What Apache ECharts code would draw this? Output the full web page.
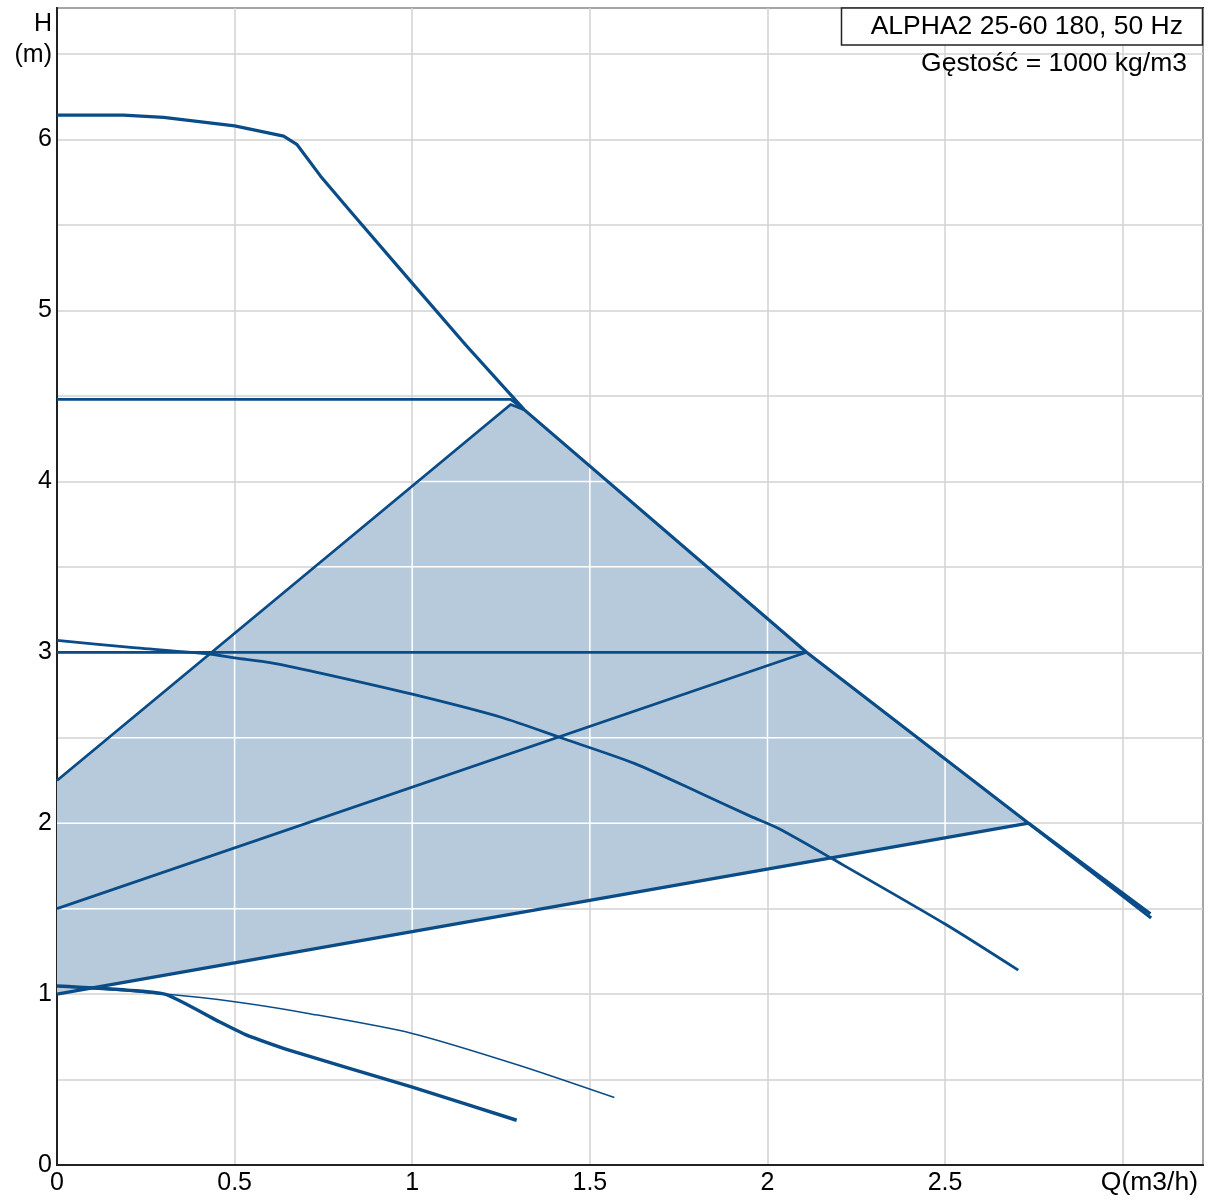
<!DOCTYPE html>
<html>
<head>
<meta charset="utf-8">
<script src="https://cdn.jsdelivr.net/npm/echarts@6/dist/echarts.min.js"></script>
<style>html,body{margin:0;padding:0;background:#fff}#c{width:1210px;height:1200px}</style>
</head>
<body>
<div id="c"></div>
<script>
// ---- data (Q in m3/h, H in m) ----
const maxCurve = [[0,6.143],[0.187,6.143],[0.3,6.13],[0.5,6.08],[0.638,6.02],[0.676,5.97],[0.742,5.786],[0.83,5.57],[1.0,5.16],[1.15,4.8],[1.315,4.42],[2.11,3.0],[2.735,2.0],[3.078,1.47]];
const constHigh = [[0,4.48],[1.277,4.48],[1.315,4.42]];
const propHigh = [[0,2.25],[1.277,4.45],[1.315,4.42]];
const constMid = [[0,3.0],[2.11,3.0]];
const propMid = [[0,1.5],[2.11,3.0]];
const propLow = [[0,1.0],[2.735,2.0]];
const propLowTail = [[2.735,2.0],[3.08,1.445]];
const speedIII = [[0,3.07],[0.2,3.03],[0.43,2.99],[0.5,2.967],[0.6,2.94],[0.732,2.883],[1.0,2.755],[1.25,2.62],[1.418,2.5],[1.625,2.35],[1.813,2.174],[1.953,2.04],[2.03,1.97],[2.184,1.79],[2.5,1.41],[2.706,1.14]];
const speedI = [[0,1.047],[0.303,1.0],[0.448,0.848],[0.534,0.76],[0.653,0.672],[0.998,0.457],[1.294,0.262]];
const speedIThin = [[0,1.047],[0.303,1.0],[0.5,0.955],[0.707,0.887],[1.0,0.77],[1.3,0.584],[1.569,0.395]];
const xTicks = [0, 0.5, 1, 1.5, 2, 2.5];
const yTicks = [0, 1, 2, 3, 4, 5, 6];
const xMax = 3.226, yMax = 6.77, gridStep = 0.5;
const titleText = 'ALPHA2 25-60 180, 50 Hz';
const densityText = 'Gęstość = 1000 kg/m3';
const xName = 'Q(m3/h)';
const yName1 = 'H', yName2 = '(m)';

// ---- fill region built from curves ----
const endLow = propLow[propLow.length - 1];
const peak = propHigh[propHigh.length - 1];
const fillPoly = [propLow[0]].concat(propHigh,
  maxCurve.filter(p => p[0] > peak[0] && p[0] < endLow[0]), [endLow]);

// white grid lines inside the filled region
function crossings(poly, axis, v) {
  const out = [];
  for (let i = 0; i < poly.length; i++) {
    const a = poly[i], b = poly[(i + 1) % poly.length];
    if ((a[axis] <= v) !== (b[axis] <= v)) {
      const t = (v - a[axis]) / (b[axis] - a[axis]);
      out.push(a[1 - axis] + t * (b[1 - axis] - a[1 - axis]));
    }
  }
  return out.sort((m, n) => m - n);
}
const innerGrid = [];
for (let v = gridStep; v < xMax; v += gridStep) {
  const c = crossings(fillPoly, 0, v);
  for (let i = 0; i + 1 < c.length; i += 2) innerGrid.push([v, c[i], v, c[i + 1]]);
}
for (let v = gridStep; v < yMax; v += gridStep) {
  const c = crossings(fillPoly, 1, v);
  for (let i = 0; i + 1 < c.length; i += 2) innerGrid.push([c[i], v, c[i + 1], v]);
}

const BLUE = '#0a4c87';
const FONT = 'Liberation Sans, Arial, sans-serif';
function curve(name, data, width, smooth) {
  return { name, type: 'line', data, symbol: 'none', smooth: smooth || false, z: 5,
    lineStyle: { color: BLUE, width, join: 'round' }, silent: true, animation: false };
}
const near = (v, arr) => arr.some(t => Math.abs(t - v) < 1e-6);

const chart = echarts.init(document.getElementById('c'), null, { renderer: 'canvas' });
chart.setOption({
  animation: false,
  backgroundColor: '#fff',
  grid: { left: 57, top: 8, right: 7, bottom: 35, show: true, borderColor: '#222', borderWidth: 2, backgroundColor: 'transparent' },
  xAxis: {
    type: 'value', min: 0, max: xMax, interval: gridStep,
    axisLine: { show: true, lineStyle: { color: '#222', width: 2 } },
    axisTick: { show: false },
    splitLine: { show: true, lineStyle: { color: '#d2d2d2', width: 1.5 } },
    axisLabel: { fontSize: 25, color: '#000', fontFamily: FONT, margin: 6,
      showMaxLabel: false,
      formatter: v => near(v, xTicks) ? String(v) : '' }
  },
  yAxis: {
    type: 'value', min: 0, max: yMax, interval: gridStep,
    axisLine: { show: true, lineStyle: { color: '#222', width: 2 } },
    axisTick: { show: false },
    splitLine: { show: true, lineStyle: { color: '#d2d2d2', width: 1.5 } },
    axisLabel: { fontSize: 25, color: '#000', fontFamily: FONT, margin: 5,
      showMaxLabel: false,
      formatter: v => near(v, yTicks) ? String(v) : '' }
  },
  series: [
    { type: 'custom', z: 1, silent: true, data: [[0, 0]],
      renderItem: (params, api) => ({ type: 'polygon',
        shape: { points: fillPoly.map(p => api.coord(p)) },
        style: { fill: '#b7cadb', stroke: null } }) },
    { type: 'custom', z: 2, silent: true, data: innerGrid,
      encode: { x: [0, 2], y: [1, 3] },
      renderItem: (params, api) => {
        const a = api.coord([api.value(0), api.value(1)]);
        const b = api.coord([api.value(2), api.value(3)]);
        return { type: 'line', shape: { x1: a[0], y1: a[1], x2: b[0], y2: b[1] },
          style: { stroke: '#ffffff', lineWidth: 1.5 } };
      } },
    curve('speedIThin', speedIThin, 1.5, 0.25),
    curve('speedI', speedI, 3.5, 0.15),
    curve('speedIII', speedIII, 2.8, 0.25),
    curve('propLow', propLow, 3.2),
    curve('propLowTail', propLowTail, 3.2),
    curve('propMid', propMid, 2.8),
    curve('constMid', constMid, 2.8),
    curve('propHigh', propHigh, 2.8),
    curve('constHigh', constHigh, 2.8),
    curve('maxCurve', maxCurve, 3.2)
  ],
  graphic: [
    { type: 'rect', z: 10, shape: { x: 841.5, y: 8, width: 361, height: 37 },
      style: { fill: '#fff', stroke: '#222', lineWidth: 1.5 } },
    { type: 'text', z: 11, x: 1183, y: 27, style: { text: titleText, font: '26.5px ' + FONT, fill: '#000', textAlign: 'right', textVerticalAlign: 'middle' } },
    { type: 'text', z: 11, x: 1187, y: 64, style: { text: densityText, font: '26.5px ' + FONT, fill: '#000', textAlign: 'right', textVerticalAlign: 'middle' } },
    { type: 'text', z: 11, x: 1198, y: 1183, style: { text: xName, font: '26.5px ' + FONT, fill: '#000', textAlign: 'right', textVerticalAlign: 'middle' } },
    { type: 'text', z: 11, x: 52, y: 24, style: { text: yName1, font: '25px ' + FONT, fill: '#000', textAlign: 'right', textVerticalAlign: 'middle' } },
    { type: 'text', z: 11, x: 52, y: 55, style: { text: yName2, font: '25px ' + FONT, fill: '#000', textAlign: 'right', textVerticalAlign: 'middle' } }
  ]
});
</script>
</body>
</html>
